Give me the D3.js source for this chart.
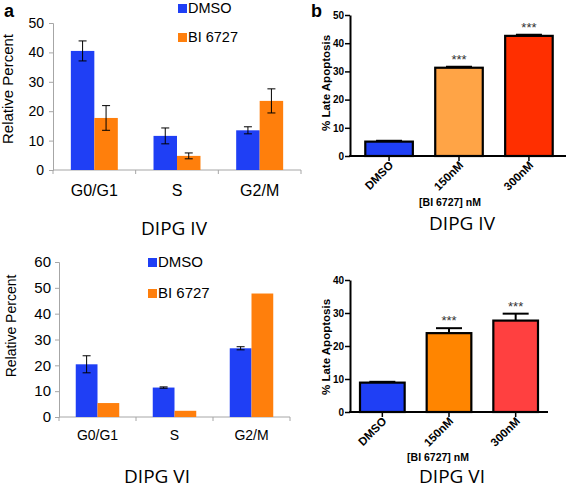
<!DOCTYPE html>
<html><head><meta charset="utf-8">
<script src="https://cdn.jsdelivr.net/npm/d3@7/dist/d3.min.js"></script>
<style>body{margin:0;background:#fff}svg{display:block}</style>
</head><body><svg id="c" width="567" height="490"></svg>
<script>
// ---- data ----
const phases = ["G0/G1", "S", "G2/M"];
const seriesNames = ["DMSO", "BI 6727"];
// DIPG IV cell cycle
const cc4_dmso = [40.5, 11.6, 13.5];
const cc4_dmso_err = [3.4, 2.7, 1.2];
const cc4_bi = [17.7, 4.8, 23.5];
const cc4_bi_err = [4.2, 1.0, 4.1];
// DIPG VI cell cycle
const cc6_dmso = [20.4, 11.4, 26.6];
const cc6_dmso_err = [3.3, 0.25, 0.6];
const cc6_bi = [5.4, 2.4, 47.8];
const cc6_bi_err = [0, 0, 0];
// Late apoptosis
const doses = ["DMSO", "150nM", "300nM"];
const apo4 = [5.1, 31.3, 42.6];
const apo4_err = [0.3, 0.35, 0.4];
const apo6 = [8.9, 23.9, 27.7];
const apo6_err = [0.25, 1.5, 2.1];
const apoSig = ["", "***", "***"];
const ccTicks4 = [0, 10, 20, 30, 40, 50];
const ccTicks6 = [0, 10, 20, 30, 40, 50, 60];
const apoTicks4 = [0, 10, 20, 30, 40, 50];
const apoTicks6 = [0, 10, 20, 30, 40];

const svg = d3.select("#c");
const SANS = "Liberation Sans, Arial, sans-serif";
const TITLE = "Open Sans, Noto Sans, sans-serif";
const cBlue = "#1f3ff5", cOrange = "#ff7f0c";

function cellCycle(o) {
  const g = svg.append("g");
  const x = d3.scaleBand().domain(phases).range(o.xr);
  const xi = d3.scaleBand().domain(seriesNames).range([0, x.bandwidth()]).paddingOuter(o.pad);
  const y = d3.scaleLinear().domain(o.dom).range(o.yr);
  const axisCol = "#a6a6a6";
  const ya = d3.axisLeft(y).tickValues(o.ticks).tickSize(4).tickSizeOuter(4);
  const yg = g.append("g").attr("transform", `translate(${o.xr[0]},0)`).call(ya);
  yg.select(".domain").attr("stroke", axisCol);
  yg.selectAll(".tick line").attr("stroke", axisCol);
  yg.selectAll(".tick text").attr("font-family", SANS).attr("font-size", o.tickFs).attr("fill", "#000").attr("x", -o.tickGap);
  g.append("line").attr("x1", o.xr[0]).attr("x2", o.xr[1]).attr("y1", y(0)).attr("y2", y(0)).attr("stroke", axisCol);
  const bounds = phases.map(p => x(p)).concat([o.xr[1]]);
  g.selectAll(".bt").data(bounds).join("line").attr("x1", d => d).attr("x2", d => d)
    .attr("y1", y(0)).attr("y2", y(0) + 4).attr("stroke", axisCol);
  const series = [
    {name: "DMSO", v: o.dmso, e: o.dmsoErr, c: cBlue},
    {name: "BI 6727", v: o.bi, e: o.biErr, c: cOrange}
  ];
  series.forEach(s => {
    phases.forEach((p, i) => {
      const bx = x(p) + xi(s.name);
      g.append("rect").attr("x", bx).attr("width", xi.bandwidth())
        .attr("y", y(s.v[i])).attr("height", y(0) - y(s.v[i])).attr("fill", s.c);
      if (s.e[i] > 0) {
        const cx = bx + xi.bandwidth() / 2, y1 = y(s.v[i] + s.e[i]), y2 = y(s.v[i] - s.e[i]);
        g.append("line").attr("x1", cx).attr("x2", cx).attr("y1", y1).attr("y2", y2).attr("stroke", "#000").attr("stroke-width", 1);
        [y1, y2].forEach(yy => g.append("line").attr("x1", cx - 4).attr("x2", cx + 4).attr("y1", yy).attr("y2", yy).attr("stroke", "#000").attr("stroke-width", 1));
      }
    });
  });
  g.selectAll(".cl").data(phases).join("text").attr("x", d => x(d) + x.bandwidth() / 2).attr("y", o.catY)
    .attr("text-anchor", "middle").attr("font-family", SANS).attr("font-size", o.catFs).text(d => d);
  g.append("text").attr("transform", `translate(${o.ylX},${o.ylY}) rotate(-90)`).attr("text-anchor", "middle")
    .attr("font-family", SANS).attr("font-size", o.ylFs).text("Relative Percent");
  series.forEach((s, i) => {
    const ly = o.legY[i];
    g.append("rect").attr("x", o.legX).attr("y", ly - 9).attr("width", 9).attr("height", 9).attr("fill", s.c);
    g.append("text").attr("x", o.legX + 10).attr("y", ly).attr("font-family", SANS).attr("font-size", o.legFs).text(s.name);
  });
  g.append("text").attr("x", o.titleX).attr("y", o.titleY).attr("text-anchor", "middle")
    .attr("font-family", TITLE).attr("font-size", 19).text(o.title);
}

function apoptosis(o) {
  const g = svg.append("g");
  const x = d3.scaleBand().domain(doses).range(o.xr).paddingInner(o.pi).paddingOuter(o.po);
  const y = d3.scaleLinear().domain(o.dom).range(o.yr);
  doses.forEach((d, i) => {
    const v = o.vals[i], e = o.errs[i];
    const cx = x(d) + x.bandwidth() / 2;
    const et = y(v + e);
    if (e > 0) {
      g.append("line").attr("x1", cx).attr("x2", cx).attr("y1", y(v)).attr("y2", et).attr("stroke", "#000").attr("stroke-width", 2);
      g.append("line").attr("x1", cx - 13).attr("x2", cx + 13).attr("y1", et).attr("y2", et).attr("stroke", "#000").attr("stroke-width", 2);
    }
    g.append("rect").attr("x", x(d)).attr("width", x.bandwidth()).attr("y", y(v)).attr("height", y(0) - y(v))
      .attr("fill", o.colors[i]).attr("stroke", "#000").attr("stroke-width", 2.2);
    if (apoSig[i]) g.append("text").attr("x", cx).attr("y", et - 3).attr("text-anchor", "middle")
      .attr("font-family", SANS).attr("font-size", 13).attr("fill", "#333").text(apoSig[i]);
  });
  const ya = d3.axisLeft(y).tickValues(o.ticks).tickSize(5).tickSizeOuter(0);
  const yg = g.append("g").attr("transform", `translate(${o.ax},0)`).call(ya);
  yg.select(".domain").attr("stroke", "#000").attr("stroke-width", 2);
  yg.selectAll(".tick line").attr("stroke", "#000").attr("stroke-width", 1.5);
  yg.selectAll(".tick text").attr("font-family", SANS).attr("font-size", 10).attr("font-weight", "bold").attr("x", -6);
  g.append("line").attr("x1", o.ax - 1).attr("x2", o.xr[1]).attr("y1", y(0)).attr("y2", y(0)).attr("stroke", "#000").attr("stroke-width", 2);
  doses.forEach(d => {
    const cx = x(d) + x.bandwidth() / 2;
    g.append("line").attr("x1", cx).attr("x2", cx).attr("y1", y(0)).attr("y2", y(0) + 5).attr("stroke", "#000").attr("stroke-width", 1.5);
    g.append("text").attr("transform", `translate(${cx + 5},${y(0) + 10}) rotate(-45)`).attr("text-anchor", "end")
      .attr("font-family", SANS).attr("font-size", 11.5).attr("font-weight", "bold").text(d);
  });
  g.append("text").attr("x", o.xlX).attr("y", o.xlY).attr("text-anchor", "middle")
    .attr("font-family", SANS).attr("font-size", 10.5).attr("font-weight", "bold").text("[BI 6727] nM");
  g.append("text").attr("transform", `translate(${o.ylX},${o.ylY}) rotate(-90)`).attr("text-anchor", "middle")
    .attr("font-family", SANS).attr("font-size", 11.5).attr("font-weight", "bold").text("% Late Apoptosis");
  g.append("text").attr("x", o.titleX).attr("y", o.titleY).attr("text-anchor", "middle")
    .attr("font-family", TITLE).attr("font-size", 19).text(o.title);
}

cellCycle({xr: [53, 301], yr: [170, 23], dom: [0, 50], ticks: ccTicks4, pad: 0.76,
  dmso: cc4_dmso, dmsoErr: cc4_dmso_err, bi: cc4_bi, biErr: cc4_bi_err,
  tickFs: 14, tickGap: 9, catFs: 16, catY: 196, ylX: 13, ylY: 89, ylFs: 15,
  legX: 178, legY: [13, 42], legFs: 14.5, title: "DIPG IV", titleX: 174, titleY: 235});
cellCycle({xr: [59, 290], yr: [417, 262], dom: [0, 60], ticks: ccTicks6, pad: 0.77,
  dmso: cc6_dmso, dmsoErr: cc6_dmso_err, bi: cc6_bi, biErr: cc6_bi_err,
  tickFs: 15, tickGap: 8, catFs: 14, catY: 440, ylX: 16, ylY: 326, ylFs: 14,
  legX: 148, legY: [267, 298], legFs: 15, title: "DIPG VI", titleX: 157, titleY: 483});
apoptosis({xr: [352, 566], pi: 0.32, po: 0.19, yr: [156, 15], dom: [0, 50], ticks: apoTicks4, ax: 350,
  vals: apo4, errs: apo4_err, colors: ["#1f3ff5", "#ffa446", "#ff2f00"],
  xlX: 450, xlY: 206, ylX: 330, ylY: 83, title: "DIPG IV", titleX: 462, titleY: 230});
apoptosis({xr: [350, 548], pi: 0.33, po: 0.15, yr: [412, 280], dom: [0, 40], ticks: apoTicks6, ax: 350,
  vals: apo6, errs: apo6_err, colors: ["#1f3ff5", "#ff8500", "#ff4040"],
  xlX: 438, xlY: 461, ylX: 330, ylY: 347, title: "DIPG VI", titleX: 452, titleY: 483});
svg.append("text").attr("x", 4).attr("y", 17).attr("font-family", SANS).attr("font-weight", "bold").attr("font-size", 18).text("a");
svg.append("text").attr("x", 311).attr("y", 17).attr("font-family", SANS).attr("font-weight", "bold").attr("font-size", 18).text("b");
</script></body></html>
